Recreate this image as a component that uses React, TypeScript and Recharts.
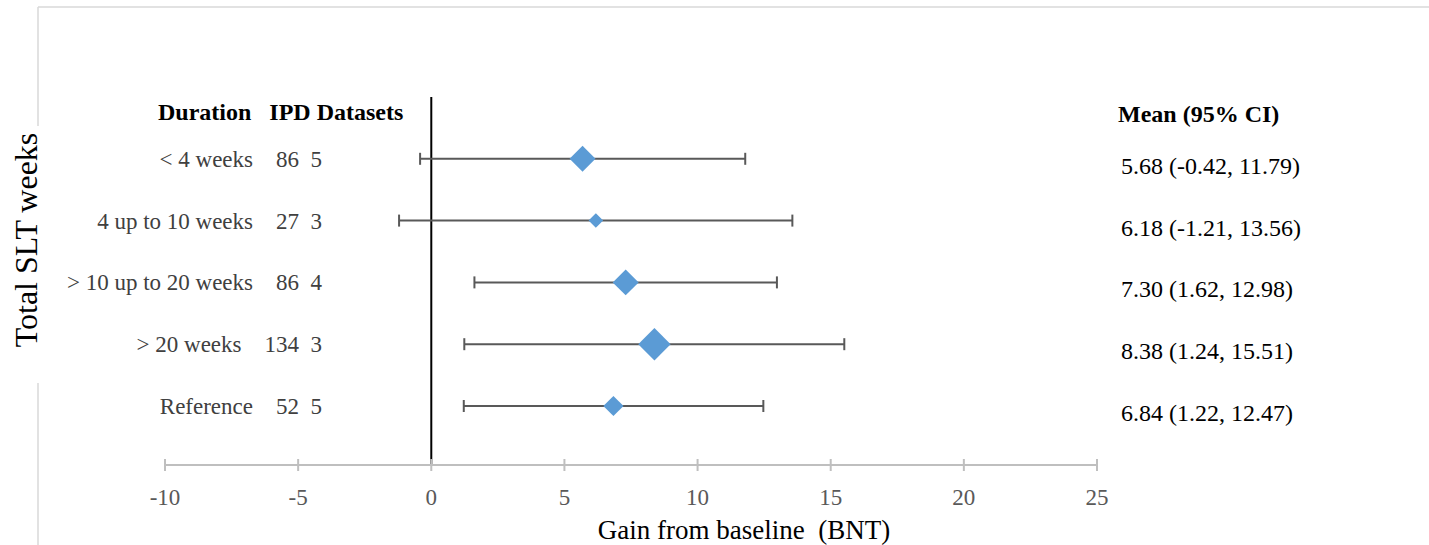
import {
  ComposedChart, Scatter, XAxis, YAxis, ErrorBar, ReferenceLine,
} from "recharts";

const durations = ["< 4 weeks", "4 up to 10 weeks", "> 10 up to 20 weeks", "> 20 weeks", "Reference"];
const ipdCounts = [86, 27, 86, 134, 52];
const datasetCounts = [5, 3, 4, 3, 5];
const means = [5.68, 6.18, 7.3, 8.38, 6.84];
const lowers = [-0.42, -1.21, 1.62, 1.24, 1.22];
const uppers = [11.79, 13.56, 12.98, 15.51, 12.47];
const xTicks = [-10, -5, 0, 5, 10, 15, 20, 25];

const FONT = "'Liberation Serif', 'Times New Roman', serif";

// row 5 = top row, row 1 = bottom row
const rows = durations.map((d, i) => ({
  row: durations.length - i,
  label: d,
  n: ipdCounts[i],
  k: datasetCounts[i],
  mean: means[i],
  err: [means[i] - lowers[i], uppers[i] - means[i]],
  ci: `${means[i].toFixed(2)} (${lowers[i].toFixed(2)}, ${uppers[i].toFixed(2)})`,
}));
const byRow = (v: number) => rows.find((r) => r.row === v);

function Diamond(props: any) {
  const { cx, cy, payload } = props;
  const h = Math.sqrt(payload.n) * 1.4;
  return (
    <polygon
      points={`${cx},${cy - h} ${cx + h},${cy} ${cx},${cy + h} ${cx - h},${cy}`}
      fill="#5B9BD5"
    />
  );
}

function LeftTick({ x, y, payload }: any) {
  const r = byRow(payload.value);
  if (!r) return null;
  return (
    <text x={x + 157} y={y} dy={8} textAnchor="end" fontFamily={FONT} fontSize={23}
      fill="#404040" style={{ whiteSpace: "pre" }}>
      {`${r.label}    ${r.n}  ${r.k}`}
    </text>
  );
}

function RightTick({ x, y, payload }: any) {
  const r = byRow(payload.value);
  if (!r) return null;
  return (
    <text x={x + 24} y={y} dy={15} textAnchor="start" fontFamily={FONT} fontSize={24} fill="#000">
      {r.ci}
    </text>
  );
}

function XTick({ x, y, payload }: any) {
  return (
    <g>
      <line x1={x} x2={x} y1={y - 6} y2={y + 6} stroke="#BFBFBF" strokeWidth={2} />
      <text x={x} y={y} dy={40} textAnchor="middle" fontFamily={FONT} fontSize={23} fill="#595959">
        {payload.value}
      </text>
    </g>
  );
}

export default function App() {
  return (
    <div style={{ position: "absolute", left: 0, top: 0, width: 1429, height: 545, background: "#fff" }}>
      <ComposedChart width={1429} height={545} data={rows}
        margin={{ top: 97, right: 0, bottom: 0, left: 0 }}>
        <XAxis type="number" dataKey="mean" domain={[-10, 25]} ticks={xTicks}
          allowDataOverflow height={80} axisLine={{ stroke: "#BFBFBF", strokeWidth: 2 }}
          tickLine={false} tickSize={0} tickMargin={0} tick={<XTick />} />
        <YAxis yAxisId="left" type="number" dataKey="row" domain={[0.045, 6]} allowDataOverflow
          ticks={[1, 2, 3, 4, 5]} width={165} axisLine={false} tickLine={false}
          tickSize={0} tickMargin={0} tick={<LeftTick />} />
        <YAxis yAxisId="right" orientation="right" type="number" domain={[0.045, 6]} allowDataOverflow
          ticks={[1, 2, 3, 4, 5]} width={332} axisLine={false} tickLine={false}
          tickSize={0} tickMargin={0} tick={<RightTick />} />
        <ReferenceLine yAxisId="left" x={0} stroke="#000" strokeWidth={2} />
        <Scatter yAxisId="left" dataKey="row" shape={<Diamond />} isAnimationActive={false}>
          <ErrorBar dataKey="err" direction="x" width={6} stroke="#595959" strokeWidth={2}
            isAnimationActive={false} />
        </Scatter>
      </ComposedChart>
      <svg width={1429} height={545} style={{ position: "absolute", left: 0, top: 0, pointerEvents: "none" }}>
        <line x1={38} x2={1429} y1={7} y2={7} stroke="#D9D9D9" strokeWidth={1.5} />
        <line x1={38} x2={38} y1={7} y2={126} stroke="#D9D9D9" strokeWidth={1.5} />
        <line x1={38} x2={38} y1={383} y2={545} stroke="#D9D9D9" strokeWidth={1.5} />
        <text x={158} y={120} fontFamily={FONT} fontSize={24} fontWeight="bold" fill="#000"
          style={{ whiteSpace: "pre" }}>
          {"Duration   IPD Datasets"}
        </text>
        <text x={1118} y={122} fontFamily={FONT} fontSize={24} fontWeight="bold" fill="#000">
          Mean (95% CI)
        </text>
        <text x={0} y={0} transform="translate(37,240) rotate(-90)" textAnchor="middle"
          fontFamily={FONT} fontSize={32} fill="#000">
          Total SLT weeks
        </text>
        <text x={744} y={539} textAnchor="middle" fontFamily={FONT} fontSize={27} fill="#000"
          style={{ whiteSpace: "pre" }}>
          {"Gain from baseline  (BNT)"}
        </text>
      </svg>
    </div>
  );
}
